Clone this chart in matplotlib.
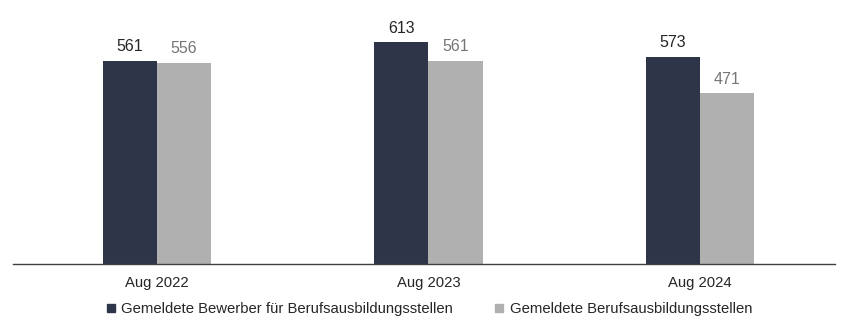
import matplotlib
matplotlib.use('Agg')
import matplotlib.pyplot as plt
from matplotlib.lines import Line2D
import numpy as np

plt.rcParams['font.family'] = ['Liberation Sans', 'DejaVu Sans']

categories = ['Aug 2022', 'Aug 2023', 'Aug 2024']
bewerber = [561, 613, 573]
stellen = [556, 561, 471]
series_names = ['Gemeldete Bewerber für Berufsausbildungsstellen',
                'Gemeldete Berufsausbildungsstellen']

DARK = '#2e3549'
GRAY = '#b0b0b0'

fig = plt.figure(figsize=(8.43, 3.28), dpi=100)
ax = fig.add_axes([13 / 843, 1 - 264 / 328, 822 / 843, 253.4 / 328])

x = np.arange(len(categories))
bw = 0.199
ax.bar(x - bw / 2, bewerber, width=bw, color=DARK)
ax.bar(x + bw / 2, stellen, width=bw, color=GRAY)

for xi, v in zip(x, bewerber):
    ax.text(xi - bw / 2, v + 18, str(v), ha='center', va='bottom',
            fontsize=11.5, color='#262626')
for xi, v in zip(x, stellen):
    ax.text(xi + bw / 2, v + 18, str(v), ha='center', va='bottom',
            fontsize=11.5, color='#767676')

ax.set_xlim(-0.530, 2.497)
ax.set_ylim(0, 700)
ax.set_xticks(x)
ax.set_xticklabels(categories, fontsize=10.7, color='#262626')
ax.tick_params(axis='x', length=0, pad=9)
ax.set_yticks([])
for s in ['top', 'right', 'left']:
    ax.spines[s].set_visible(False)
ax.spines['bottom'].set_color('#404040')
ax.spines['bottom'].set_linewidth(1)

handles = [Line2D([], [], marker='s', linestyle='none', color=DARK, markersize=6),
           Line2D([], [], marker='s', linestyle='none', color=GRAY, markersize=6)]
fig.legend(handles, series_names, loc='center', bbox_to_anchor=(428 / 843, 1 - 309 / 328),
           ncol=2, frameon=False, fontsize=10.7, handletextpad=0.2,
           columnspacing=2.6, handlelength=1.0, labelcolor='#262626')

fig.savefig('out.png', dpi=100)
